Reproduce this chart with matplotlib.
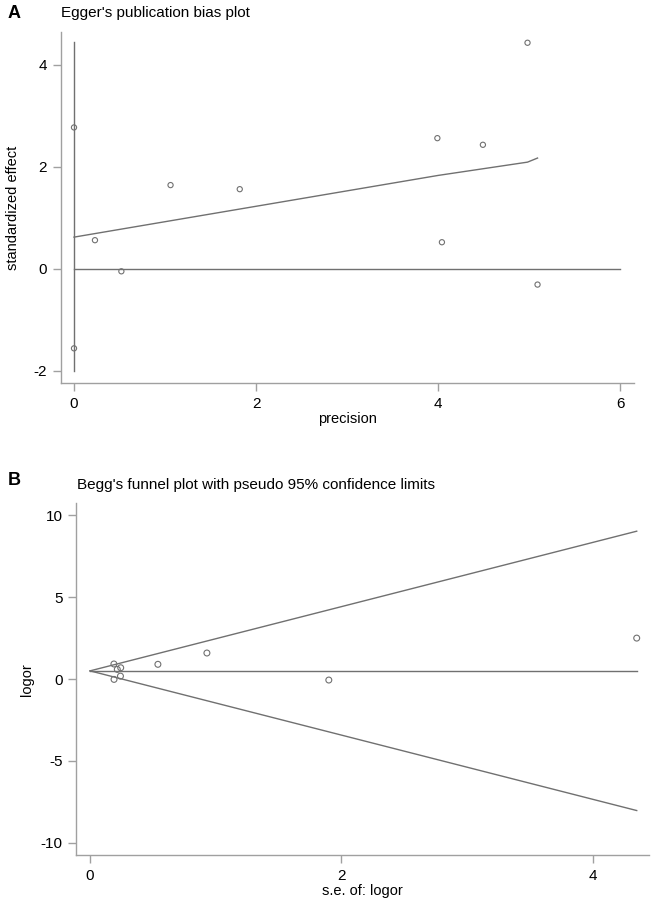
import numpy as np
from matplotlib import pyplot as plt

plt.rcParams['font.family'] = ['Liberation Sans', 'DejaVu Sans']
plt.rcParams['axes.unicode_minus'] = False

# Egger's plot data (precision, standardized effect)
egger_precision = [0.0, 0.0, 0.23, 0.52, 1.06, 1.82, 3.99, 4.04, 4.49, 4.98, 5.09]
egger_effect = [2.77, -1.56, 0.56, -0.05, 1.64, 1.56, 2.56, 0.52, 2.43, 4.43, -0.31]
# fitted regression line as drawn
egger_fit_x = [0.0, 4.0, 4.98, 5.09]
egger_fit_y = [0.62, 1.83, 2.09, 2.17]
# intercept confidence interval at precision = 0
egger_ci = [-2.0, 4.45]

# Begg's funnel data (s.e. of logor, logor)
begg_se = [0.19, 0.217, 0.244, 0.242, 0.191, 0.54, 0.93, 1.90, 4.35]
begg_logor = [0.92, 0.59, 0.69, 0.18, -0.02, 0.90, 1.59, -0.06, 2.50]
begg_theta = 0.5
z95 = 1.96

line_col = "#707070"
spine_col = "#a0a0a0"


def style_axes(ax):
    for side in ["top", "right"]:
        ax.spines[side].set_visible(False)
    for side in ["left", "bottom"]:
        ax.spines[side].set_color(spine_col)
        ax.spines[side].set_linewidth(1.0)
    ax.tick_params(color=spine_col, length=6, width=1.0, labelsize=11, pad=4)


def main():
    fig = plt.figure(figsize=(6.53, 9.0), dpi=100)

    # Panel A: Egger
    ax1 = fig.add_axes([0.0934, 0.5744, 0.8776, 0.39])
    ax1.plot([0, 0], egger_ci, color=line_col, lw=1.0)
    ax1.plot([0, 6], [0, 0], color=line_col, lw=1.0)
    ax1.plot(egger_fit_x, egger_fit_y, color=line_col, lw=1.0)
    ax1.scatter(egger_precision, egger_effect, s=14, facecolors="none",
                edgecolors="#707070", linewidths=0.8, zorder=3)
    ax1.set_xlim(-0.143, 6.15)
    ax1.set_ylim(-2.24, 4.64)
    ax1.set_xticks([0, 2, 4, 6])
    ax1.set_yticks([-2, 0, 2, 4])
    ax1.set_xlabel("precision", fontsize=10.5, labelpad=1)
    ax1.set_ylabel("standardized effect", fontsize=10.5, labelpad=10)
    style_axes(ax1)
    fig.text(0.093, 0.985, "Egger's publication bias plot", fontsize=11,
             va="center", ha="left")
    fig.text(0.012, 0.985, "A", fontsize=13, fontweight="bold",
             va="center", ha="left")

    # Panel B: Begg
    ax2 = fig.add_axes([0.1169, 0.05, 0.8774, 0.3908])
    se_sorted = np.sort(np.array([0.0] + begg_se))
    ax2.plot(se_sorted, begg_theta + z95 * se_sorted, color=line_col, lw=1.0)
    ax2.plot(se_sorted, begg_theta - z95 * se_sorted, color=line_col, lw=1.0)
    ax2.plot([0, max(begg_se)], [begg_theta, begg_theta], color=line_col, lw=1.0)
    ax2.scatter(begg_se, begg_logor, s=18, facecolors="none",
                edgecolors="#707070", linewidths=0.8, zorder=3)
    ax2.set_xlim(-0.109, 4.45)
    ax2.set_ylim(-10.74, 10.73)
    ax2.set_xticks([0, 2, 4])
    ax2.set_yticks([-10, -5, 0, 5, 10])
    ax2.set_xlabel("s.e. of: logor", fontsize=10.5, labelpad=1)
    ax2.set_ylabel("logor", fontsize=10.5, labelpad=5)
    style_axes(ax2)
    fig.text(0.118, 0.461, "Begg's funnel plot with pseudo 95% confidence limits",
             fontsize=11, va="center", ha="left")
    fig.text(0.012, 0.466, "B", fontsize=13, fontweight="bold",
             va="center", ha="left")

    fig.savefig("out.png", dpi=100, facecolor="white")
    return 0


if __name__ == "__main__":
    main()
